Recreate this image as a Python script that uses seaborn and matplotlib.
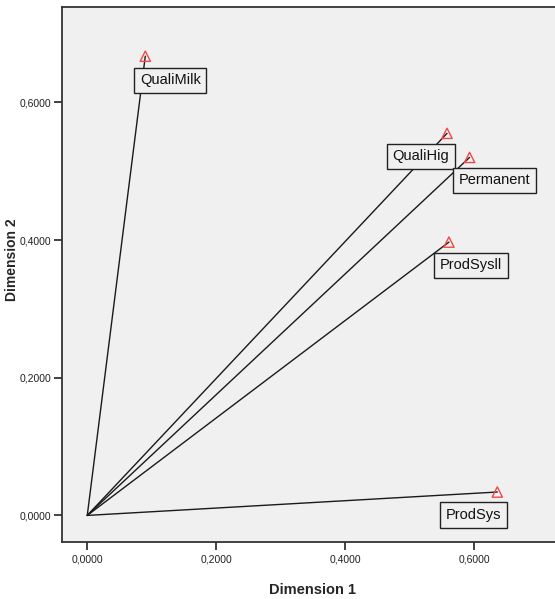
import matplotlib
matplotlib.use('Agg')

import matplotlib.pyplot as plt
import seaborn as sns
import pandas as pd

# component loadings
variables = ["QualiMilk", "QualiHig", "Permanent", "ProdSysII", "ProdSys"]
labels = ["QualiMilk", "QualiHig", "Permanent", "ProdSysll", "ProdSys"]
dim1 = [0.090, 0.558, 0.593, 0.561, 0.636]
dim2 = [0.667, 0.555, 0.520, 0.397, 0.034]
# label offsets in pixels (box centre relative to point)
label_dx = [25, -26, 25, 22, -24]
label_dy = [-24, -23, -23, -23, -23]

xticks = [0.0, 0.2, 0.4, 0.6]
yticks = [0.0, 0.2, 0.4, 0.6]

df = pd.DataFrame({"variable": variables, "label": labels, "dim1": dim1, "dim2": dim2})

sns.set_style("white")
font = ["Liberation Sans", "DejaVu Sans"]
plt.rcParams["font.family"] = font

fig = plt.figure(figsize=(5.55, 5.99), dpi=100)
ax = fig.add_axes([0.111, 0.0947, 0.889, 0.894])
ax.set_facecolor("#f0f0f0")

for _, r in df.iterrows():
    ax.plot([0, r["dim1"]], [0, r["dim2"]], color="#1a1a1a", lw=1.0, zorder=2)

sns.scatterplot(data=df, x="dim1", y="dim2", marker="^", s=55,
                facecolors="none", edgecolor="#f04848", linewidth=1.0,
                ax=ax, zorder=3, legend=False)

for i, r in df.iterrows():
    ax.annotate(r["label"], (r["dim1"], r["dim2"]),
                xytext=(label_dx[i], label_dy[i]), textcoords="offset pixels",
                ha="center", va="center", fontsize=10.5, color="#111111",
                zorder=4,
                bbox=dict(boxstyle="square,pad=0.38", fc="#f0f0f0",
                          ec="#222222", lw=1.0))

ax.set_xlim(-0.0398, 0.7255)
ax.set_ylim(-0.039, 0.7388)
ax.set_xticks(xticks)
ax.set_yticks(yticks)
ax.set_xticklabels([f"{t:.4f}".replace(".", ",") for t in xticks])
ax.set_yticklabels([f"{t:.4f}".replace(".", ",") for t in yticks])
ax.tick_params(axis="both", direction="out", length=6, width=1.2,
               color="#222222", labelsize=7.5, pad=1.5, labelcolor="#222222",
               bottom=True, left=True)
ax.tick_params(axis="x", pad=3)

for side in ["left", "bottom", "top"]:
    ax.spines[side].set_color("#333333")
    ax.spines[side].set_linewidth(1.3)
ax.spines["right"].set_visible(False)

ax.set_xlabel("Dimension 1", fontsize=10.5, fontweight="bold")
ax.set_ylabel("Dimension 2", fontsize=10, fontweight="bold")
ax.xaxis.set_label_coords(0.508, -0.089)
ax.yaxis.set_label_coords(-0.100, 0.527)
ax.xaxis.label.set_va("center")
ax.yaxis.label.set_va("center")

fig.savefig("out.png", dpi=100)
plt.close(fig)
